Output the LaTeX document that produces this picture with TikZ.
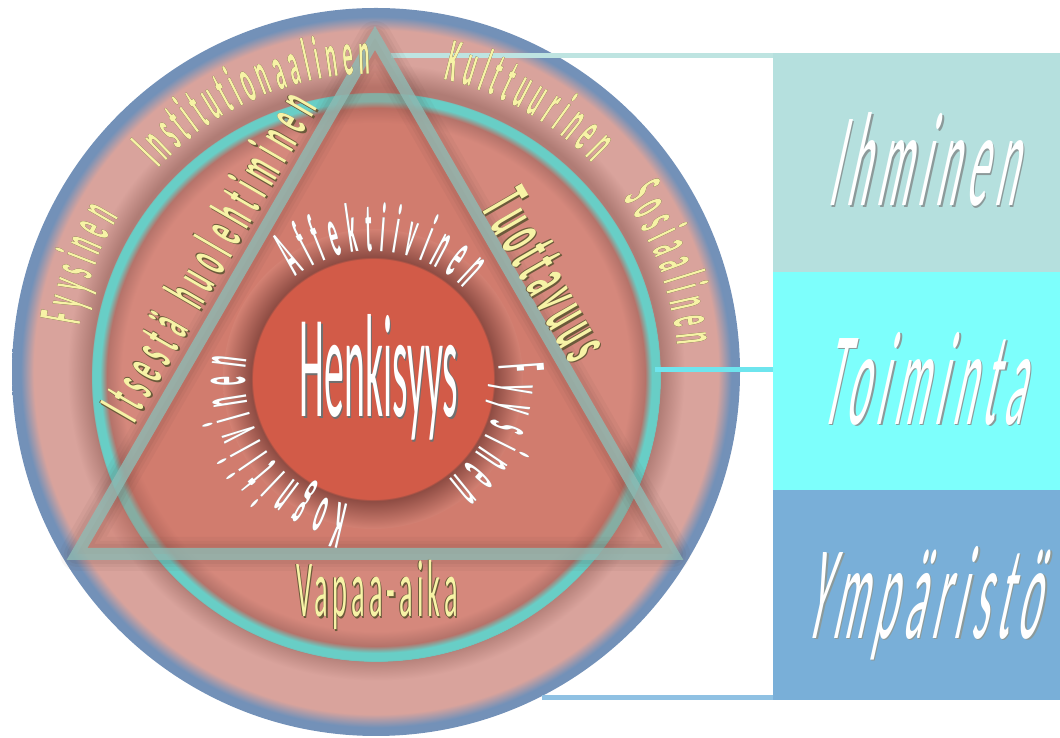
\documentclass[tikz,border=0pt]{standalone}
\usepackage{fontspec}
\setmainfont{Carlito}
\newfontfamily\ringfont[FakeStretch=0.33]{Carlito Bold}
\newfontfamily\corefont[FakeStretch=0.26]{Carlito Bold}
\newfontfamily\edgefont[FakeStretch=0.38]{Carlito Bold}
\newfontfamily\titlefont[FakeStretch=0.27]{Carlito}
\newfontfamily\leisurefont[FakeStretch=0.35,LetterSpace=5]{Carlito}
\newfontfamily\boxfont[FakeStretch=0.31,FakeSlant=0.22,LetterSpace=6]{Carlito}
\usetikzlibrary{decorations.text}

\definecolor{ringpink}{HTML}{D9A39C}
\definecolor{ringshade}{HTML}{B07C75}
\definecolor{ringblue}{HTML}{7391B8}
\definecolor{midsalmon}{HTML}{D5887C}
\definecolor{midshade}{HTML}{B5736A}
\definecolor{midteal}{HTML}{68CEC6}
\definecolor{trired}{HTML}{C9614F}
\definecolor{triblur}{HTML}{5A3A35}
\definecolor{triteal}{HTML}{8FBBB4}
\definecolor{corered}{HTML}{D25B48}
\definecolor{coreshade}{HTML}{8E4C43}
\definecolor{coreedge}{HTML}{D38173}
\definecolor{ytext}{HTML}{F7F3A6}
\definecolor{yshade}{HTML}{6B5A3A}
\definecolor{wshade}{HTML}{707070}
\definecolor{boxshade}{HTML}{8C9A9A}
\definecolor{ihmcol}{HTML}{B5E0DE}
\definecolor{toicol}{HTML}{7DFFFC}
\definecolor{ympcol}{HTML}{79AFD8}
\definecolor{ihmline}{HTML}{BEE4E1}
\definecolor{toiline}{HTML}{6EE5EE}
\definecolor{ympline}{HTML}{8FC1E3}

% soft rims of the three discs
\pgfdeclareradialshading{outerring}{\pgfpoint{0bp}{0bp}}{%
  color(0bp)=(ringshade); color(19.6bp)=(ringshade); color(21.2bp)=(ringpink);
  color(23.5bp)=(ringpink); color(24.4bp)=(ringblue); color(25bp)=(ringblue);
  color(50bp)=(ringblue)}
\pgfdeclareradialshading{middisc}{\pgfpoint{0bp}{0bp}}{%
  color(0bp)=(midsalmon); color(22.3bp)=(midsalmon); color(23.6bp)=(midshade);
  color(24.2bp)=(midteal); color(24.9bp)=(midteal); color(25bp)=(ringshade);
  color(50bp)=(ringshade)}
\pgfdeclareradialshading{corehalo}{\pgfpoint{0bp}{0bp}}{%
  color(0bp)=(corered); color(20bp)=(corered); color(20.3bp)=(coreshade);
  color(25bp)=(coreedge); color(50bp)=(coreedge)}

\begin{document}
\begin{tikzpicture}[x=1pt,y=1pt]
    \tikzstyle{box}=[rectangle, inner sep=0pt, minimum width=287, anchor=north west]
    \tikzstyle{link}=[line width=5]
    \tikzstyle{trifill}=[fill=trired, fill opacity=0.3]
    \tikzstyle{triedge}=[draw=triteal, line width=12, draw opacity=0.8, line join=miter]
    \tikzstyle{arctext}=[decorate, decoration={text along path, text align=fit to path}]
    \tikzstyle{boxtext}=[font=\boxfont\fontsize{134}{140}\selectfont, anchor=base, inner sep=0pt]

    \useasboundingbox (0,0) rectangle (1060,738);

    \coordinate (O) at (376,366);
    \coordinate (M) at (376,361);
    \coordinate (K) at (373,359);
    \coordinate (A) at (375,700);
    \coordinate (B) at (77,184);
    \coordinate (C) at (673,184);

    % the two big discs
    \shade[shading=outerring] (O) circle[radius=364];
    \shade[shading=middisc] (M) circle[radius=285];

    % boxes on the right and their links
    \node[box, fill=ihmcol, minimum height=219] (ihminen) at (773,685) {};
    \node[box, fill=toicol, minimum height=218] (toiminta) at (773,466) {};
    \node[box, fill=ympcol, minimum height=210] (ymparisto) at (773,248) {};
    \coordinate (apex) at (391,682.5);
    \coordinate (rim) at (655,368);
    \coordinate (foot) at (542,40.5);
    \draw[link, ihmline] (apex) -- (apex -| ihminen.west);
    \draw[link, toiline] (rim) -- (rim -| toiminta.west);
    \draw[link, ympline] (foot) -- (foot -| ymparisto.west);

    % triangle
    \fill[trifill] (A) -- (B) -- (C) -- cycle;
    \foreach \w/\o in {34/0.05, 26/0.06, 20/0.07}
        \draw[line width=\w, draw=triblur, draw opacity=\o, line join=round] (A) -- (B) -- (C) -- cycle;
    \draw[triedge] (A) -- (B) -- (C) -- cycle;

    % core
    \shade[shading=corehalo] (K) circle[radius=150];

    % yellow labels, dark edge first
    \foreach \col/\dx/\dy in {yshade/1.4/-1.4, yshade/-0.7/0.7, ytext/0/0} {
    \begin{scope}[shift={(\dx,\dy)}]
        \path[arctext, decoration={text along path, text={|\ringfont\fontsize{62}{64}\selectfont\color{\col}|Fyysinen}}]
            (O) ++(171:300) arc[start angle=171, end angle=149, radius=300];
        \path[arctext, decoration={text along path, text={|\ringfont\fontsize{62}{64}\selectfont\color{\col}|Institutionaalinen}}]
            (O) ++(137:298) arc[start angle=137, end angle=91, radius=298];
        \path[arctext, decoration={text along path, text={|\ringfont\fontsize{62}{64}\selectfont\color{\col}|Kulttuurinen}}]
            (O) ++(77:300) arc[start angle=77, end angle=44, radius=300];
        \path[arctext, decoration={text along path, text={|\ringfont\fontsize{62}{64}\selectfont\color{\col}|Sosiaalinen}}]
            (O) ++(35:302) arc[start angle=35, end angle=5, radius=302];
        \path[arctext, decoration={text along path, text={|\edgefont\fontsize{62}{64}\selectfont\color{\col}|Itsestä huolehtiminen}}]
            (134,313) -- (318,630);
        \path[arctext, decoration={text along path, text={|\edgefont\fontsize{74}{76}\selectfont\color{\col}|Tuottavuus}}]
            (480,530.1) -- (570.9,372.8);
        \node[font=\leisurefont\fontsize{81}{84}\selectfont, text=\col, anchor=base, inner sep=0pt]
            (vapaa-\col) at (377,121) {Vapaa-aika};
    \end{scope}
    }

    % white labels round the core
    \foreach \col/\dx/\dy in {wshade/1.3/-1.3, white/0/0} {
    \begin{scope}[shift={(\dx,\dy)}]
        \path[arctext, decoration={text along path, text={|\corefont\fontsize{70}{72}\selectfont\color{\col}|Affektiivinen}}]
            (K) ++(127:128) arc[start angle=127, end angle=45, radius=128];
        \path[arctext, decoration={text along path, text={|\corefont\fontsize{70}{72}\selectfont\color{\col}|Fyysinen}}]
            (K) ++(6:126) arc[start angle=6, end angle=-53, radius=126];
        \path[arctext, decoration={text along path, text={|\corefont\fontsize{70}{72}\selectfont\color{\col}|Kognitiivinen}}]
            (K) ++(259:128) arc[start angle=259, end angle=171, radius=128];
        \node[font=\titlefont\fontsize{147}{150}\selectfont, text=\col, anchor=base, inner sep=0pt]
            (henkisyys-\col) at (379,321) {Henkisyys};
    \end{scope}
    }

    % box titles
    \foreach \n/\lbl in {ihminen/Ihminen, toiminta/Toiminta, ymparisto/Ympäristö} {
        \node[boxtext, text=boxshade] (\n-shade) at ([shift={(6,-44.5)}]\n.center) {\lbl};
        \node[boxtext, text=white] (\n-title) at ([shift={(4.5,-43)}]\n.center) {\lbl};
    }
\end{tikzpicture}
\end{document}
